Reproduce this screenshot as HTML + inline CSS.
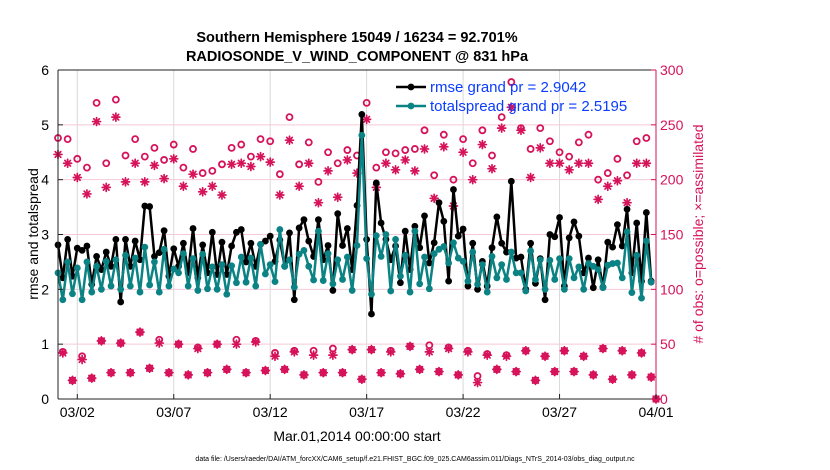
<!DOCTYPE html>
<html><head><meta charset="utf-8"><style>
html,body{margin:0;padding:0;background:#fff;}
svg{display:block;font-family:"Liberation Sans",sans-serif;}
</style></head><body>
<svg id="chart" width="830" height="470" xmlns="http://www.w3.org/2000/svg">
<text x="357" y="42" text-anchor="middle" font-size="14.5" font-weight="bold">Southern Hemisphere 15049 / 16234 = 92.701%</text>
<text x="357" y="61" text-anchor="middle" font-size="14.5" font-weight="bold">RADIOSONDE_V_WIND_COMPONENT @ 831 hPa</text>
<text transform="translate(38,234) rotate(-90)" text-anchor="middle" font-size="14">rmse and totalspread</text>
<text transform="translate(703,234) rotate(-90)" text-anchor="middle" font-size="14" fill="#d6135a"># of obs: o=possible; ×=assimilated</text>
<text x="357" y="441" text-anchor="middle" font-size="14">Mar.01,2014 00:00:00 start</text>
<text x="415" y="461" text-anchor="middle" font-size="7">data file: /Users/raeder/DAI/ATM_forcXX/CAM6_setup/f.e21.FHIST_BGC.f09_025.CAM6assim.011/Diags_NTrS_2014-03/obs_diag_output.nc</text>
<g id="plot"></g>
</svg>
<script>
const rmse=[2.81,2.21,2.91,2.24,2.75,2.71,2.79,2.09,2.60,2.36,2.68,2.42,2.91,1.77,2.91,2.42,2.88,2.54,3.52,3.51,2.60,2.67,3.07,2.24,2.74,2.42,2.84,2.30,3.11,2.21,2.81,2.30,3.04,2.27,2.86,2.27,2.79,3.04,3.09,2.50,
2.84,2.42,2.82,2.88,2.97,2.51,2.90,2.42,3.03,1.81,3.12,3.27,2.88,2.60,3.27,2.54,2.80,1.98,3.38,2.80,3.11,2.36,3.53,5.19,2.91,1.55,3.94,3.21,2.91,2.54,2.79,2.12,3.06,2.36,3.15,2.76,3.34,2.48,2.85,3.58,
3.24,2.15,3.82,2.97,3.10,2.06,2.84,2.00,2.51,2.06,2.76,3.32,2.84,2.68,3.97,2.57,2.59,2.00,2.84,2.11,2.56,1.81,3.00,2.96,3.31,2.06,2.94,3.23,2.97,2.30,2.57,2.03,2.54,2.04,2.86,2.77,3.18,2.79,3.46,2.30,3.21,2.15,3.40,2.15,null];
const spread=[2.30,1.81,2.50,1.92,2.39,1.81,2.50,1.95,2.42,2.00,2.51,2.06,2.54,2.00,2.62,2.06,2.57,1.95,2.77,2.08,2.50,1.95,2.73,2.06,2.37,2.30,2.65,2.06,2.56,1.98,2.64,2.01,2.41,2.00,2.45,1.91,2.43,2.12,2.59,2.13,
2.57,2.06,2.82,2.28,2.45,2.14,3.09,2.42,2.54,2.04,2.64,2.71,2.42,2.17,3.06,2.16,2.65,2.10,2.54,2.18,2.59,1.98,2.80,4.81,2.56,1.91,2.98,2.60,3.00,1.97,2.91,2.24,2.62,1.95,3.06,2.10,2.59,2.01,2.65,2.73,
2.78,2.48,2.85,2.57,2.51,2.15,2.68,2.09,2.45,1.95,2.60,2.21,2.45,2.18,2.68,2.30,2.30,1.97,2.70,2.18,2.54,2.00,2.53,2.18,2.56,2.00,2.56,2.21,2.41,2.00,2.47,2.42,2.36,2.03,2.44,2.47,2.48,2.21,3.05,1.94,2.62,1.84,2.88,2.13,null];
const possible=[238,43,237,17,219,39,211,19,270,53,215,24,273,51,222,24,237,61,221,28,229,54,218,24,232,50,211,22,228,47,206,24,208,50,214,27,229,54,232,24,
221,53,237,26,235,42,205,27,257,44,214,22,234,44,198,24,225,46,215,24,227,45,222,18,270,45,211,24,225,44,224,23,227,48,228,27,245,49,204,25,
241,47,200,22,237,44,215,21,245,41,222,27,257,40,289,25,247,44,228,17,247,39,235,25,225,44,221,25,234,39,241,22,200,46,206,18,219,44,204,22,235,42,238,20,0];
const assimilated=[223,42,215,17,202,36,187,19,253,53,193,24,257,51,198,24,215,61,198,28,213,51,201,24,219,50,194,22,205,46,189,24,194,50,186,27,214,50,215,24,
212,52,221,26,216,39,186,27,236,43,194,22,215,40,179,24,208,40,184,24,218,45,206,18,255,45,193,24,215,43,209,23,218,48,208,27,228,43,183,25,
230,46,176,22,225,43,200,15,232,40,210,27,247,39,266,25,245,44,202,17,229,39,215,25,215,44,209,25,215,39,215,22,182,46,194,18,199,44,179,22,215,42,215,20,0];
const leftTicks=[0,1,2,3,4,5,6];
const rightTicks=[0,50,100,150,200,250,300];
const dateTicks=[2,7,12,17,22,27,32];
const dateLabels=["03/02","03/07","03/12","03/17","03/22","03/27","04/01"];
const legendLabels=["rmse grand pr = 2.9042","totalspread grand pr = 2.5195"];

const X0=58,X1=656,Y0=399,Y1=70,D0=1,D1=32;
const xs=d=>X0+(d-D0)*(X1-X0)/(D1-D0);
const yl=v=>Y0-v*(Y0-Y1)/6;
const yr=c=>Y0-c*(Y0-Y1)/300;
const tOf=i=>1+0.25*i;
const NS="http://www.w3.org/2000/svg";
const g=document.getElementById('plot');
function mk(tag,attrs,parent){const e=document.createElementNS(NS,tag);for(const k in attrs)e.setAttribute(k,attrs[k]);(parent||g).appendChild(e);return e;}
const CR="#d6135a",TEAL="#0b8283";

leftTicks.forEach(v=>{if(v>0&&v<6){const l=mk('line',{x1:X0,x2:X1,y1:yl(v),y2:yl(v),stroke:'#f6c9d8','stroke-width':1});

}});
dateTicks.forEach(d=>{if(d<32){const l=mk('line',{x1:xs(d),x2:xs(d),y1:Y1,y2:Y0,stroke:'#d8d8d8','stroke-width':1});

}});

const cg=mk('g',{});


possible.forEach((c,i)=>{const ci=mk('circle',{cx:xs(tOf(i)),cy:yr(c),r:3,fill:'none',stroke:CR,'stroke-width':1.8},cg);

});
function star(x,y,par){const s=mk('g',{stroke:CR,'stroke-width':1.7,'stroke-linecap':'round'},par);
[[0,4],[4,0],[2.8,2.8],[2.8,-2.8]].forEach(p=>mk('line',{x1:x-p[0],y1:y-p[1],x2:x+p[0],y2:y+p[1]},s));return s;}
assimilated.forEach((c,i)=>{const s=star(xs(tOf(i)),yr(c),cg);

});

function series(vals,color,name){const sg=mk('g',{});


let d='';vals.forEach((v,i)=>{if(v==null)return;d+=(d?'L':'M')+xs(tOf(i)).toFixed(2)+','+yl(v).toFixed(2);});
mk('path',{d:d,fill:'none',stroke:color,'stroke-width':2.5,'stroke-linejoin':'round'},sg);
vals.forEach((v,i)=>{if(v==null)return;const c=mk('circle',{cx:xs(tOf(i)),cy:yl(v),r:3.4,fill:color},sg);

});}
series(rmse,'#000','rmse-line');
series(spread,TEAL,'totalspread-line');

const ax=mk('g',{});


mk('line',{x1:X0,x2:X1,y1:Y0,y2:Y0,stroke:'#222','stroke-width':1},ax);
mk('line',{x1:X0,x2:X1,y1:Y1,y2:Y1,stroke:'#222','stroke-width':1},ax);
mk('line',{x1:X0,x2:X0,y1:Y1,y2:Y0,stroke:'#222','stroke-width':1},ax);
mk('line',{x1:X1,x2:X1,y1:Y1,y2:Y0,stroke:CR,'stroke-width':1},ax);
leftTicks.forEach(v=>{mk('line',{x1:X0,x2:X0+5,y1:yl(v),y2:yl(v),stroke:'#222'},ax);
const t=mk('text',{x:X0-9,y:yl(v)+5,'text-anchor':'end','font-size':14},ax);t.textContent=v;

});
rightTicks.forEach(v=>{mk('line',{x1:X1-5,x2:X1,y1:yr(v),y2:yr(v),stroke:CR},ax);
const t=mk('text',{x:X1+4,y:yr(v)+5,'font-size':14,fill:CR},ax);t.textContent=v;

});
dateTicks.forEach((d,k)=>{mk('line',{x1:xs(d),x2:xs(d),y1:Y0,y2:Y0-5,stroke:'#222'},ax);
const t=mk('text',{x:xs(d),y:Y0+18,'text-anchor':'middle','font-size':14},ax);t.textContent=dateLabels[k];

});

const lg=mk('g',{});


[['#000',87],[TEAL,106]].forEach((p,k)=>{const e=mk('g',{},lg);


mk('line',{x1:396,x2:426,y1:p[1],y2:p[1],stroke:p[0],'stroke-width':2.5},e);
mk('circle',{cx:411,cy:p[1],r:3.4,fill:p[0]},e);
const t=mk('text',{x:430,y:p[1]+5,'font-size':15,fill:'#0a3cff'},e);t.textContent=legendLabels[k];});
</script>
</body></html>
